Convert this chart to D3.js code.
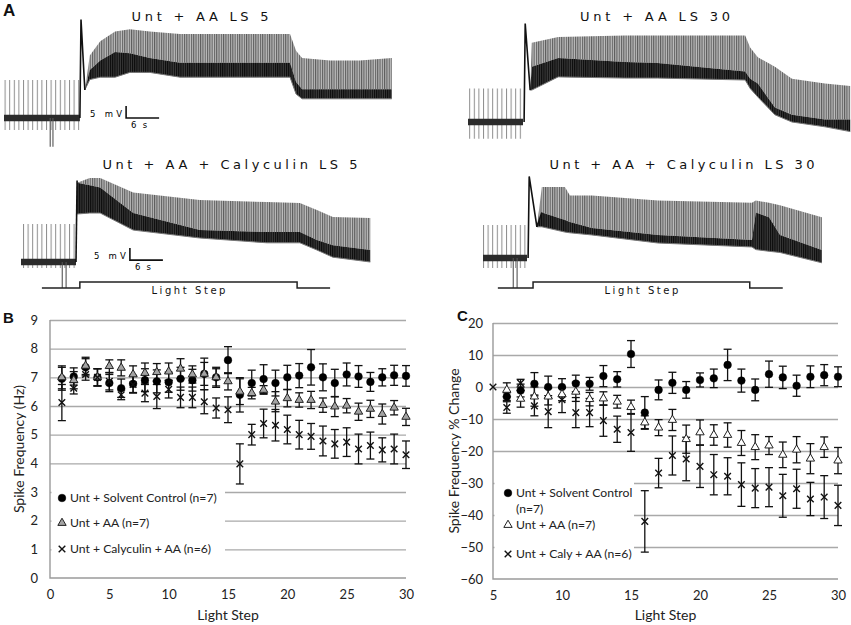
<!DOCTYPE html>
<html><head><meta charset="utf-8">
<script src="https://cdn.jsdelivr.net/npm/d3@7"></script>
<style>body{margin:0;background:#fff}svg{display:block}</style>
</head><body>
<svg id="fig" width="851" height="625"></svg>
<script>
// ================= DATA =================
// Panel B : spike frequency (Hz) per light step
const stepsB = [1,2,3,4,5,6,7,8,9,10,11,12,13,14,15,16,17,18,19,20,21,22,23,24,25,26,27,28,29,30];
const solventB    = [6.95,7.03,7.35,7.0,6.8,6.62,6.77,6.9,6.86,6.83,6.95,6.9,7.12,7.0,7.6,6.39,6.8,6.94,6.8,7.0,7.06,7.35,7.0,6.8,7.1,7.03,6.84,7.0,7.07,7.05];
const solventBErr = [0.4,0.3,0.3,0.3,0.3,0.32,0.3,0.4,0.4,0.35,0.4,0.38,0.55,0.35,0.47,0.6,0.45,0.5,0.45,0.42,0.42,0.62,0.47,0.48,0.4,0.38,0.33,0.3,0.35,0.36];
const aaB         = [7.0,6.9,7.4,7.0,7.39,7.33,7.1,7.15,7.18,7.2,7.3,7.1,7.12,7.0,6.86,6.5,6.45,6.56,6.15,6.27,6.21,6.21,6.03,5.98,6.01,5.8,5.9,5.72,5.94,5.62];
const aaBErr      = [0.4,0.3,0.3,0.3,0.22,0.28,0.3,0.35,0.3,0.3,0.35,0.3,0.4,0.3,0.3,0.45,0.2,0.15,0.35,0.3,0.25,0.3,0.25,0.35,0.25,0.3,0.3,0.35,0.25,0.3];
const calyB       = [6.12,6.62,7.1,7.0,6.86,6.39,6.75,6.45,6.33,6.58,6.3,6.3,6.15,5.93,5.87,3.98,5.0,5.39,5.33,5.18,5.0,4.94,4.78,4.68,4.74,4.5,4.62,4.47,4.5,4.3];
const calyBErr    = [0.63,0.2,0.2,0.3,0.3,0.17,0.3,0.3,0.42,0.3,0.36,0.36,0.42,0.35,0.45,0.7,0.36,0.5,0.55,0.5,0.5,0.45,0.52,0.5,0.5,0.52,0.47,0.42,0.52,0.48];
const yTicksB = [0,1,2,3,4,5,6,7,8,9];
const xTicksB = [0,5,10,15,20,25,30];

// Panel C : spike frequency % change per light step (step 5 is the reference step)
const stepsC = [5,6,7,8,9,10,11,12,13,14,15,16,17,18,19,20,21,22,23,24,25,26,27,28,29,30];
const solventC    = [null,-3,-1.1,1,0,0,1.1,1,3.4,2.4,10.3,-8,-0.9,1.3,-0.9,2.2,2.7,6.9,2,-0.9,4,3,0.4,3.2,3.7,3.2];
const solventCErr = [0,1.2,2,3.5,3.4,2.6,2.6,2,3.3,2.4,4.2,5,3.1,3.3,2.6,2.2,2.9,4.9,3.6,3.4,4.1,3.5,3.3,3.4,3.3,3.1];
const aaC         = [null,-0.9,-3.7,-3,-3,-2.3,-1.5,-3.8,-3.6,-4.6,-6.3,-11.1,-12.7,-10.3,-16.3,-14.2,-15,-15,-17.5,-18.8,-18.3,-21.2,-19.6,-22.4,-18.8,-23];
const aaCErr      = [0,2.2,2.6,3,2.6,2,3,2.1,2.1,2,2.2,2.1,2.5,3.3,4.4,3.9,3.2,3.8,3.9,3.9,2.8,4,4.1,4.7,3.2,4.1];
const calyC       = [0,-6.4,1.2,-5.9,-7.7,-4,-8,-8,-10.5,-13.2,-14.2,-42,-26.9,-21.4,-22.5,-24.8,-27.4,-27.9,-30.5,-31.6,-31.3,-34,-31.8,-35,-34.4,-37];
const calyCErr    = [0,1.8,1.2,3.1,5,4,4.7,4.4,4.9,4.1,5.9,9.6,4.6,6.1,6.8,6.6,6.3,5.8,6.8,6.1,6.1,6.7,6.1,5.2,6.7,6.3];
const yTicksC = [-60,-50,-40,-30,-20,-10,0,10,20];
const xTicksC = [5,10,15,20,25,30];

// Panel A : membrane potential traces (time in s, voltage in mV above rest)
// pre-light segment: [end time, spike top, lower edge]
const tlPre = [13.8, 15.8, -5];   const tlArt = [8.4, 8.9];  const tlArtDepth = -12;
const tlSpikeT = [13.8, 14.0, 14.7]; const tlSpikeV = [0, 41, 11.7];
const tlT   = [14.7,15.6,17.5,20.2,22.9,26.5,32,39.3,46.5,52,53.1,54.2,59.3,64.7,70.5];
const tlTop = [11.7,26,32,36,37,36,35,35,35,35,28,25,24,24,25];
const tlMid = [11.7,20,24,27.5,27,25,23,23,23,23,15,12,12,12,12];
const tlBot = [11.7,16,17,17,19,19,17,17,17,17,10,8,8,8,8];

const trPre = [10, 14, -7];  const trArt = []; const trArtDepth = 0;
const trSpikeT = [10.2, 10.4, 11.3]; const trSpikeV = [0, 41, 13.3];
const trT   = [11.3,11.6,16.4,28.5,34.5,50.4,51.3,52.7,55.8,58.9,64.9,69.5];
const trTop = [13.3,33,35.4,36,36,36,31,27,23,18,16,15];
const trMid = [13.3,23,26.7,25,24.6,21,18,16,6,3,1,1];
const trBot = [13.3,13.3,18.8,18.3,18.3,17.5,14,10.4,3,0,-2,-4];

const blPre = [10, 15.8, -2.5]; const blArt = [7.5, 8.2]; const blArtDepth = -10.8;
const blSpikeT = [10.0, 10.2]; const blSpikeV = [0, 34];
const blT   = [10.2,12.5,14.4,20.4,32.5,44.7,50.7,53.8,56.7,63.5];
const blTop = [33,35,35,29,25.8,25,24.6,21.7,18.8,18.3];
const blMid = [33,32,31,20.4,13.3,12.5,12.5,9.2,7,5];
const blBot = [20,20.4,20.4,13.3,10,8,8,5,2,0];
const blLight = [3.8, 10.7, 50.2, 56.2]; // line start, on, off, line end

const brPre = [8, 13.75, -4.2]; const brArt = [5.5, 6.2]; const brArtDepth = -12.5;
const brSpikeT = [8.2, 8.4, 9.8, 10.7]; const brSpikeV = [0, 34, 13, 19];
const brT   = [9.8,10.7,14.9,15.8,19.8,31.8,48.9,49.6,52,54,61.6];
const brTop = [13,29.6,29.6,26,26,24,23,24,23,22,17];
const brMid = [13,19,15.8,15,12.5,9.6,7.5,19,17,9.6,3.3];
const brBot = [13,13,10.8,10.5,9.6,6.25,4.6,3.5,2.8,2.3,-2];
const brLight = [2.7, 9.1, 48.5, 54.5];

// ================= DRAWING =================
const svg = d3.select('#fig');
const defs = svg.append('defs');
function stripe(id, w, lw, color, bg){
  const p = defs.append('pattern').attr('id',id).attr('patternUnits','userSpaceOnUse')
    .attr('width',w).attr('height',8);
  if(bg) p.append('rect').attr('width',w).attr('height',8).attr('fill',bg);
  p.append('rect').attr('width',lw).attr('height',8).attr('fill',color);
}
stripe('spkPre', 4.6, 1, '#8c8c8c', null);
stripe('spkLight', 2.3, 1.1, '#5e5e5e', '#bdbdbd');
stripe('spkDark', 2.2, 1.1, '#0a0a0a', '#3c3c3c');

const PX_S = 5.5, PX_MV = 2.4;
function drawTrace(tr){
  const x = d3.scaleLinear().domain([0,70]).range([tr.x0, tr.x0 + 70*PX_S]);
  const y = d3.scaleLinear().domain([0,50]).range([tr.yB, tr.yB - 50*PX_MV]);
  const g = svg.append('g');
  const pre = [0, tr.pre[0]];
  g.append('path').attr('d', d3.area().x(d=>x(d)).y0(y(tr.pre[2])).y1(y(tr.pre[1]))(pre)).attr('fill','url(#spkPre)');
  g.append('path').attr('d', d3.area().x(d=>x(d)).y0(y(-1.4)).y1(y(1.4))(pre)).attr('fill','#2b2b2b');
  g.selectAll('line.art').data(tr.art).join('line').attr('x1',d=>x(d)).attr('x2',d=>x(d))
    .attr('y1',y(0)).attr('y2',y(tr.artDepth)).attr('stroke','#555').attr('stroke-width',1.1);
  const L = tr.T.map((t,i)=>({t, top:tr.top[i], mid:tr.mid[i], bot:tr.bot[i]}));
  g.append('path').attr('d', d3.area().x(d=>x(d.t)).y0(d=>y(d.mid)).y1(d=>y(d.top))(L)).attr('fill','url(#spkLight)');
  g.append('path').attr('d', d3.area().x(d=>x(d.t)).y0(d=>y(d.bot)).y1(d=>y(d.mid))(L)).attr('fill','url(#spkDark)');
  g.append('path').attr('d', d3.line().x(d=>x(d.t)).y(d=>y(d.bot))(L)).attr('fill','none').attr('stroke','#777').attr('stroke-width',1);
  const S = tr.spT.map((t,i)=>({t, v:tr.spV[i]}));
  g.append('path').attr('d', d3.line().x(d=>x(d.t)).y(d=>y(d.v))(S)).attr('fill','none').attr('stroke','#111').attr('stroke-width',1.6);
  // title
  g.append('text').attr('x', tr.titleX).attr('y', tr.titleY).attr('text-anchor','middle')
    .attr('font-family','DejaVu Sans').attr('font-size',13).attr('fill','#111')
    .attr('textLength', tr.titleW).attr('lengthAdjust','spacing').text(tr.title);
  if(tr.sb){
    const cx = x(tr.sb[0]), cy = y(tr.sb[1]);
    g.append('path').attr('d', d3.line()([[x(tr.sb[0]), y(tr.sb[1]+5)],[cx,cy],[x(tr.sb[0]+6), cy]]))
      .attr('fill','none').attr('stroke','#111').attr('stroke-width',1.6);
    g.append('text').attr('x',cx-4).attr('y',cy-1).attr('text-anchor','end').attr('font-family','DejaVu Sans')
      .attr('font-size',8.5).attr('textLength',32).attr('lengthAdjust','spacing').text('5 mV');
    g.append('text').attr('x',cx+5).attr('y',cy+10).attr('font-family','DejaVu Sans')
      .attr('font-size',8.5).attr('textLength',16).attr('lengthAdjust','spacing').text('6 s');
  }
  if(tr.light){
    const lo = y(tr.artDepth), hi = lo - 6;
    const [s,on,off,e] = tr.light;
    g.append('path').attr('d', d3.line()([[x(s),lo],[x(on),lo],[x(on),hi],[x(off),hi],[x(off),lo],[x(e),lo]]))
      .attr('fill','none').attr('stroke','#222').attr('stroke-width',1.5);
    g.append('text').attr('x',(x(on)+x(off))/2).attr('y',hi+12).attr('text-anchor','middle')
      .attr('font-family','DejaVu Sans').attr('font-size',10).attr('fill','#111')
      .attr('textLength',74).attr('lengthAdjust','spacing').text('Light Step');
  }
}
drawTrace({x0:4, yB:118, pre:tlPre, art:tlArt, artDepth:tlArtDepth, spT:tlSpikeT, spV:tlSpikeV,
  T:tlT, top:tlTop, mid:tlMid, bot:tlBot, title:'Unt + AA LS 5', titleX:200, titleY:21, titleW:137, sb:[22.2,0]});
drawTrace({x0:468, yB:122, pre:trPre, art:trArt, artDepth:trArtDepth, spT:trSpikeT, spV:trSpikeV,
  T:trT, top:trTop, mid:trMid, bot:trBot, title:'Unt + AA LS 30', titleX:655, titleY:21, titleW:150});
drawTrace({x0:21, yB:262, pre:blPre, art:blArt, artDepth:blArtDepth, spT:blSpikeT, spV:blSpikeV,
  T:blT, top:blTop, mid:blMid, bot:blBot, title:'Unt + AA + Calyculin LS 5', titleX:230, titleY:169, titleW:255,
  sb:[19.8,0.8], light:blLight});
drawTrace({x0:483, yB:258, pre:brPre, art:brArt, artDepth:brArtDepth, spT:brSpikeT, spV:brSpikeV,
  T:brT, top:brTop, mid:brMid, bot:brBot, title:'Unt + AA + Calyculin LS 30', titleX:682, titleY:169, titleW:265,
  light:brLight});

// panel letters
[['A',3,16,17],['B',3,323,15],['C',457,321,15]].forEach(([t,x,y,s])=>{
  svg.append('text').attr('x',x).attr('y',y).attr('font-family','Liberation Sans').attr('font-weight','bold')
    .attr('font-size',s).attr('fill','#111').text(t);
});

// ---------- scatter panels ----------
const FONT = 'Lato';
function markerPath(type){
  if(type==='circle') return d3.symbol(d3.symbolCircle, 46)();
  if(type==='tri') return d3.symbol(d3.symbolTriangle, 30)();
  return 'M-3.3,-3.3L3.3,3.3M-3.3,3.3L3.3,-3.3';
}
function styleMarker(sel, type, triFill){
  if(type==='circle') sel.attr('fill','#000').attr('stroke','#000').attr('stroke-width',0.5);
  else if(type==='tri') sel.attr('fill',triFill).attr('stroke','#222').attr('stroke-width',1);
  else sel.attr('fill','none').attr('stroke','#111').attr('stroke-width',1.4);
}
function drawPanel(p){
  const g = svg.append('g');
  const x = d3.scaleLinear().domain(p.xDomain).range(p.xRange);
  const y = d3.scaleLinear().domain(p.yDomain).range(p.yRange);
  const [x0,x1] = p.xRange, [y0,y1] = p.yRange;
  // gridlines
  g.append('g').attr('transform',`translate(${x0},0)`)
    .call(d3.axisLeft(y).tickValues(p.yTicks.slice(1)).tickSize(-(x1-x0)).tickFormat(''))
    .call(a=>{a.select('.domain').remove(); a.selectAll('line').attr('stroke','#a9a9a9').attr('stroke-width',1.4);});
  // axis lines
  g.append('path').attr('d', d3.line()([[x0,y1],[x0,y0],[x1,y0]])).attr('fill','none').attr('stroke','#9a9a9a').attr('stroke-width',1.4);
  // legend box
  g.append('rect').attr('x',x0+1.5).attr('y',p.legBox[0]).attr('width',p.legBox[1]-x0-1.5).attr('height',p.legBox[2]-p.legBox[0]).attr('fill','#fff');
  // tick labels
  g.append('g').attr('transform',`translate(${x0},0)`)
    .call(d3.axisLeft(y).tickValues(p.yTicks).tickSize(0).tickPadding(p.yPad))
    .call(a=>{a.select('.domain').remove(); a.selectAll('text').attr('font-family',FONT).attr('font-size',13).attr('fill','#222');});
  g.append('g').attr('transform',`translate(0,${y0})`)
    .call(d3.axisBottom(x).tickValues(p.xTicks).tickSize(0).tickPadding(12))
    .call(a=>{a.select('.domain').remove(); a.selectAll('text').attr('font-family',FONT).attr('font-size',13).attr('fill','#222');});
  // axis titles
  g.append('text').attr('x',(x0+x1)/2).attr('y',620).attr('text-anchor','middle').attr('font-family',FONT)
    .attr('font-size',14).attr('fill','#222').text('Light Step');
  g.append('text').attr('transform',`translate(${p.yTitleX},${(y0+y1)/2}) rotate(-90)`).attr('text-anchor','middle')
    .attr('font-family',FONT).attr('font-size',14).attr('fill','#222').text(p.yTitle);
  // series
  p.series.forEach(s=>{
    const D = p.steps.map((st,i)=>({st, v:s.vals[i], e:s.errs[i]})).filter(d=>d.v!==null);
    const E = D.filter(d=>d.e>0);
    const sg = g.append('g');
    sg.selectAll('line.v').data(E).join('line').attr('x1',d=>x(d.st)).attr('x2',d=>x(d.st))
      .attr('y1',d=>y(d.v-d.e)).attr('y2',d=>y(d.v+d.e)).attr('stroke','#111').attr('stroke-width',1.3);
    sg.selectAll('line.t').data(E).join('line').attr('x1',d=>x(d.st)-4).attr('x2',d=>x(d.st)+4)
      .attr('y1',d=>y(d.v+d.e)).attr('y2',d=>y(d.v+d.e)).attr('stroke','#111').attr('stroke-width',1.3);
    sg.selectAll('line.b').data(E).join('line').attr('x1',d=>x(d.st)-4).attr('x2',d=>x(d.st)+4)
      .attr('y1',d=>y(d.v-d.e)).attr('y2',d=>y(d.v-d.e)).attr('stroke','#111').attr('stroke-width',1.3);
  });
  p.series.forEach(s=>{
    const D = p.steps.map((st,i)=>({st, v:s.vals[i]})).filter(d=>d.v!==null);
    g.append('g').selectAll('path').data(D).join('path').attr('d',markerPath(s.type))
      .attr('transform',d=>`translate(${x(d.st)},${y(d.v)})`).call(sel=>styleMarker(sel,s.type,p.triFill));
  });
  // legend entries
  p.legend.forEach(l=>{
    g.append('path').attr('d',markerPath(l.type)).attr('transform',`translate(${p.legX},${l.y})`)
      .call(sel=>styleMarker(sel,l.type,p.triFill));
    l.lines.forEach((txt,k)=>{
      g.append('text').attr('x',p.legX+8).attr('y',l.y+4+k*16).attr('font-family',FONT).attr('font-size',12.2)
        .attr('fill','#222').text(txt);
    });
  });
}

drawPanel({xDomain:[0,30], xRange:[50,406], yDomain:[0,9], yRange:[578,320], yTicks:yTicksB, xTicks:xTicksB,
  yPad:12, yTitleX:24, yTitle:'Spike Frequency (Hz)', steps:stepsB, triFill:'#a3a3a3', legBox:[482,225,566],
  series:[{vals:solventB,errs:solventBErr,type:'circle'},{vals:aaB,errs:aaBErr,type:'tri'},{vals:calyB,errs:calyBErr,type:'cross'}],
  legX:62, legend:[{type:'circle',y:498,lines:['Unt + Solvent Control (n=7)']},{type:'tri',y:523,lines:['Unt + AA (n=7)']},
  {type:'cross',y:549,lines:['Unt + Calyculin + AA (n=6)']}]});

drawPanel({xDomain:[5,30], xRange:[493,838], yDomain:[-60,20], yRange:[579,323], yTicks:yTicksC, xTicks:xTicksC,
  yPad:10, yTitleX:459, yTitle:'Spike Frequency % Change', steps:stepsC, triFill:'#fff', legBox:[476,634,568],
  series:[{vals:solventC,errs:solventCErr,type:'circle'},{vals:aaC,errs:aaCErr,type:'tri'},{vals:calyC,errs:calyCErr,type:'cross'}],
  legX:508, legend:[{type:'circle',y:493,lines:['Unt + Solvent Control','(n=7)']},{type:'tri',y:525,lines:['Unt + AA (n=7)']},
  {type:'cross',y:554,lines:['Unt + Caly + AA (n=6)']}]});
</script>
</body></html>
